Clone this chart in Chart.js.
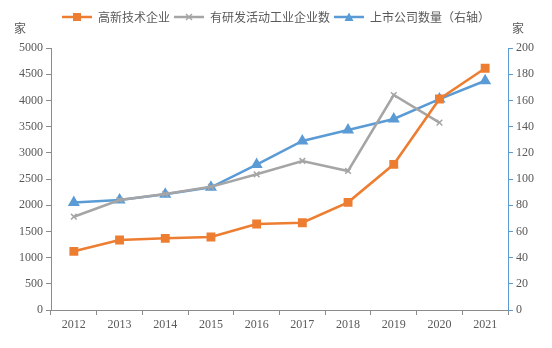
<!DOCTYPE html>
<html>
<head>
<meta charset="utf-8">
<script src="https://cdn.jsdelivr.net/npm/chart.js@4/dist/chart.umd.min.js"></script>
<style>
  html, body { margin: 0; padding: 0; background: #fff; }
  #wrap { width: 552px; height: 348px; position: relative; }
</style>
</head>
<body>
<div id="wrap"><canvas id="chart" width="552" height="348"></canvas></div>
<script>
// ---- data ----
const YEARS = ["2012","2013","2014","2015","2016","2017","2018","2019","2020","2021"];
const HIGH_TECH = [1120, 1336, 1368, 1393, 1641, 1666, 2055, 2780, 4027, 4613];
const RND_FIRMS = [1780, 2100, 2215, 2350, 2590, 2844, 2653, 4103, 3575, null];
const LISTED    = [82, 84, 88.3, 93.7, 111, 129, 137.4, 145.8, 161, 175];

const ORANGE = "#ED7D31";
const GRAY   = "#A5A5A5";
const BLUE   = "#5B9BD5";
const TEXT   = "#595959";
const AXIS   = "#8C8C8C";
const CJK    = "'Noto Sans CJK SC', sans-serif";
const SERIF  = "'Liberation Serif', serif";

// small line+marker swatch for legend
function swatch(color, style) {
  const c = document.createElement("canvas");
  c.width = 30; c.height = 10;
  const g = c.getContext("2d");
  g.strokeStyle = color; g.fillStyle = color; g.lineWidth = 2.5;
  g.beginPath(); g.moveTo(0, 5); g.lineTo(30, 5); g.stroke();
  g.lineWidth = 1.5;
  if (style === "rect") g.fillRect(11, 1, 8, 8);
  else if (style === "triangle") {
    g.beginPath(); g.moveTo(15, 0.5); g.lineTo(19.5, 9); g.lineTo(10.5, 9); g.closePath(); g.fill();
  } else {
    g.beginPath(); g.moveTo(12, 2); g.lineTo(18, 8); g.moveTo(18, 2); g.lineTo(12, 8); g.stroke();
  }
  return c;
}

// legend box made taller so the plot starts lower
const legendHeight = {
  id: "legendHeight",
  afterInit(chart) {
    const lg = chart.legend;
    const fit = lg.fit;
    lg.fit = function () { fit.call(this); this.height = 41; };
  }
};

const unitLabels = {
  id: "unitLabels",
  afterDraw(chart) {
    const ctx = chart.ctx;
    ctx.save();
    ctx.font = "12px " + CJK;
    ctx.fillStyle = TEXT;
    ctx.textAlign = "center";
    ctx.textBaseline = "middle";
    ctx.fillText("家", 20, 28);
    ctx.fillText("家", 518, 28);
    ctx.restore();
  }
};

new Chart(document.getElementById("chart"), {
  type: "line",
  data: {
    labels: YEARS,
    datasets: [
      {
        label: "高新技术企业",
        data: HIGH_TECH,
        yAxisID: "y",
        borderColor: ORANGE, backgroundColor: ORANGE,
        borderWidth: 2.5, pointStyle: "rect", pointRadius: 4.5,
        tension: 0, swatchImg: swatch(ORANGE, "rect")
      },
      {
        label: "有研发活动工业企业数",
        data: RND_FIRMS,
        yAxisID: "y",
        borderColor: GRAY, backgroundColor: GRAY,
        borderWidth: 2.5, pointStyle: "crossRot", pointRadius: 4, pointBorderWidth: 1.5,
        tension: 0, swatchImg: swatch(GRAY, "cross")
      },
      {
        label: "上市公司数量（右轴）",
        data: LISTED,
        yAxisID: "y1",
        borderColor: BLUE, backgroundColor: BLUE,
        borderWidth: 2.5, pointStyle: "triangle", pointRadius: 4.5,
        tension: 0, swatchImg: swatch(BLUE, "triangle")
      }
    ]
  },
  options: {
    responsive: false,
    animation: false,
    layout: { padding: { left: 0, right: 0, top: 7, bottom: 0 } },
    plugins: {
      tooltip: { enabled: false },
      legend: {
        position: "top",
        labels: {
          usePointStyle: true,
          pointStyleWidth: 30,
          padding: 4,
          color: TEXT,
          font: { family: CJK, size: 12 },
          generateLabels(chart) {
            return chart.data.datasets.map((ds, i) => ({
              text: ds.label,
              fillStyle: ds.borderColor,
              strokeStyle: ds.borderColor,
              pointStyle: ds.swatchImg,
              fontColor: TEXT,
              datasetIndex: i,
              hidden: false
            }));
          }
        }
      }
    },
    scales: {
      x: {
        offset: true,
        grid: { offset: true, drawOnChartArea: false, drawTicks: true, tickLength: 5, color: AXIS },
        border: { color: AXIS },
        ticks: { color: TEXT, font: { family: SERIF, size: 12 }, padding: 3, maxRotation: 0 },
        afterFit(s) { s.height = 38; }
      },
      y: {
        position: "left",
        min: 0, max: 5000,
        ticks: { stepSize: 500, color: TEXT, font: { family: SERIF, size: 12 }, padding: 3,
                 callback: v => String(v) },
        grid: { drawOnChartArea: false, drawTicks: true, tickLength: 5, color: AXIS },
        border: { color: AXIS },
        afterFit(s) { s.width = 51; }
      },
      y1: {
        position: "right",
        min: 0, max: 200,
        ticks: { stepSize: 20, color: TEXT, font: { family: SERIF, size: 12 }, padding: 3,
                 callback: v => String(v) },
        grid: { drawOnChartArea: false, drawTicks: true, tickLength: 5, color: BLUE },
        border: { color: BLUE },
        afterFit(s) { s.width = 44; }
      }
    }
  },
  plugins: [legendHeight, unitLabels]
});
</script>
</body>
</html>
